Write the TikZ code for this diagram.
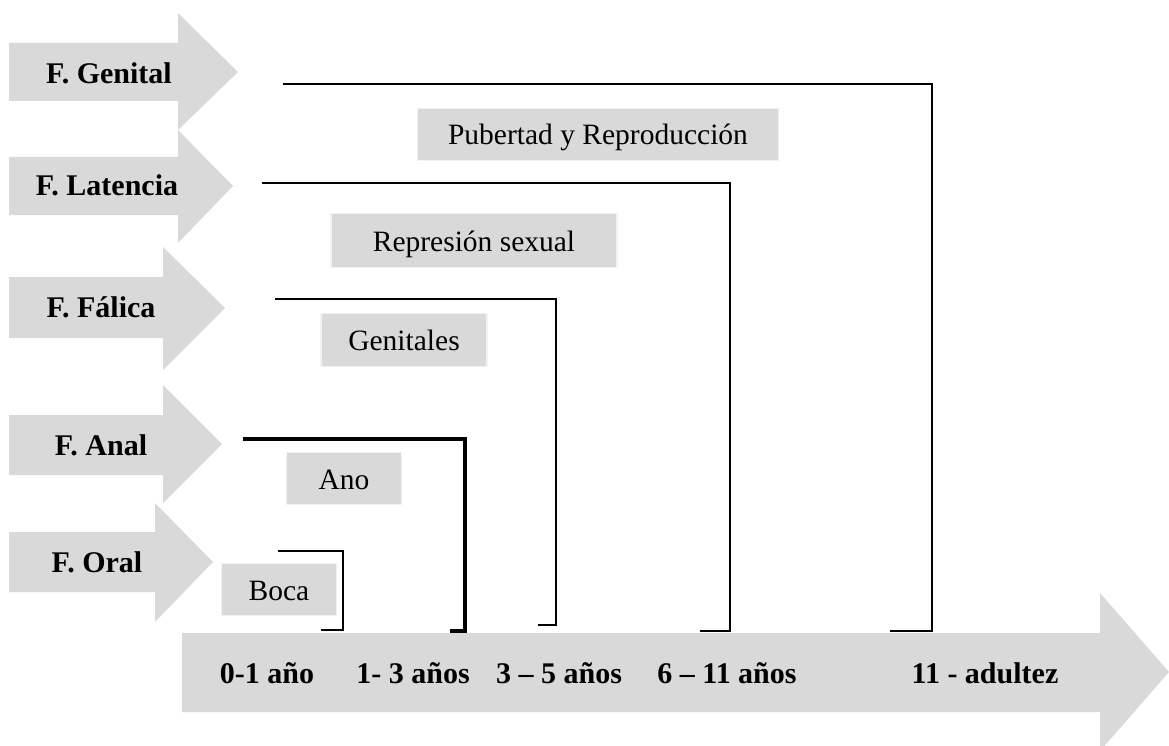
\documentclass[tikz,border=0pt]{standalone}
\usepackage{fontspec}
\setmainfont{Liberation Serif}
\definecolor{arrowgrey}{HTML}{D9D9D9}
\definecolor{boxedge}{HTML}{F2F2F2}
\tikzset{
  blockarrow/.style={fill=arrowgrey, draw=none},
  phase/.style={font=\fontsize{30}{34}\selectfont\bfseries, inner sep=0pt, anchor=base},
  age/.style={font=\fontsize{30}{34}\selectfont\bfseries, inner sep=0pt, anchor=base},
  zone/.style={fill=arrowgrey, draw=boxedge, line width=1.5pt, font=\fontsize{29.5}{33}\selectfont, inner sep=0pt, text height=24pt, text depth=3pt},
  bracket/.style={draw=black, line width=2pt},
  thickbracket/.style={draw=black, line width=4pt}
}
\begin{document}
\begin{tikzpicture}[x=1pt,y=-1pt]
\useasboundingbox (0,0) rectangle (1169,746);
\clip (0,0) rectangle (1169,746);
% left phase arrows
\path[blockarrow] (9,43) -- (178,43) -- (178,13) -- (238,72) -- (178,130) -- (178,101) -- (9,101) -- cycle;
\path[blockarrow] (9,157) -- (178,157) -- (178,130) -- (233,186) -- (178,243) -- (178,215) -- (9,215) -- cycle;
\path[blockarrow] (9,277) -- (163,277) -- (163,247) -- (225,308) -- (163,370) -- (163,338) -- (9,338) -- cycle;
\path[blockarrow] (9,415) -- (163,415) -- (163,385) -- (222,444) -- (163,503) -- (163,475) -- (9,475) -- cycle;
\path[blockarrow] (9,532) -- (155,532) -- (155,503) -- (213,562) -- (155,622) -- (155,592) -- (9,592) -- cycle;
% bottom time arrow
\path[blockarrow] (182,633) -- (1100,633) -- (1100,593) -- (1169,672) -- (1100,751) -- (1100,712) -- (182,712) -- cycle;

\node[phase] (genital) at (109,83.5) {F. Genital};
\node[phase] (latencia) at (107,195.5) {F. Latencia};
\node[phase] (falica) at (101,317.5) {F. Fálica};
\node[phase] (anal) at (101,455) {F. Anal};
\node[phase] (oral) at (97,572) {F. Oral};

\node[age] (a1) at (267,683.5) {0-1 año};
\node[age] (a2) at (413,683.5) {1- 3 años};
\node[age] (a3) at (559,683.5) {3 – 5 años};
\node[age] (a4) at (727,683.5) {6 – 11 años};
\node[age] (a5) at (985,683.5) {11 - adultez};

% zone boxes
\node[zone, minimum width=361pt, minimum height=52pt] (pub) at (598,134.5) {Pubertad y Reproducción};
\node[zone, minimum width=286pt, minimum height=54pt] (rep) at (474,240.5) {Represión sexual};
\node[zone, minimum width=166pt, minimum height=53pt] (gen) at (404,340) {Genitales};
\node[zone, minimum width=115pt, minimum height=52pt] (ano) at (344,478.5) {Ano};
\node[zone, minimum width=115pt, minimum height=52pt] (boca) at (279,589.5) {Boca};

% brackets
\coordinate (g1) at (283,84); \coordinate (g2) at (932,84); \coordinate (g3) at (932,631); \coordinate (g4) at (890,631);
\coordinate (l1) at (262,183); \coordinate (l2) at (730,183); \coordinate (l3) at (730,631); \coordinate (l4) at (700,631);
\coordinate (f1) at (275,299); \coordinate (f2) at (556,299); \coordinate (f3) at (556,625); \coordinate (f4) at (538,625);
\coordinate (n1) at (243,439); \coordinate (n2) at (465,439); \coordinate (n3) at (465,631); \coordinate (n4) at (450,631);
\coordinate (o1) at (278,551); \coordinate (o2) at (343,551); \coordinate (o3) at (343,630); \coordinate (o4) at (321,630);
\draw[bracket] (g1) -- (g2) -- (g3) -- (g4);
\draw[bracket] (l1) -- (l2) -- (l3) -- (l4);
\draw[bracket] (f1) -- (f2) -- (f3) -- (f4);
\draw[thickbracket] (n1) -- (n2) -- (n3) -- (n4);
\draw[bracket] (o1) -- (o2) -- (o3) -- (o4);
\end{tikzpicture}
\end{document}
